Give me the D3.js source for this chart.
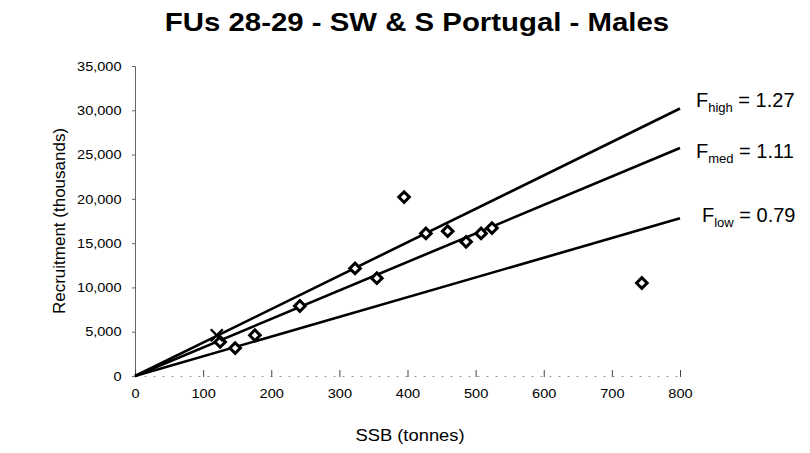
<!DOCTYPE html>
<html>
<head>
<meta charset="utf-8">
<script src="https://cdn.jsdelivr.net/npm/d3@7"></script>
<style>
  html, body { margin: 0; padding: 0; background: #fff; }
  svg { display: block; font-family: "Liberation Sans", Arial, sans-serif; }
</style>
</head>
<body>
<svg id="chart" width="810" height="453"></svg>
<script>
// ---- data ----
const ssb = [125, 147, 176, 242, 323, 355, 395, 427, 459, 486, 508, 524, 744];
const recruitment = [3850, 3150, 4600, 7900, 12150, 11050, 20200, 16100, 16350, 15150, 16100, 16700, 10500];
const markX = [120];
const markY = [4600];
const refNames = ["high", "med", "low"];
const refValues = ["1.27", "1.11", "0.79"];
const refEndR = [30200, 25750, 17800];   // recruitment at SSB = 800
const xTicks = [0, 100, 200, 300, 400, 500, 600, 700, 800];
const yTicks = [0, 5000, 10000, 15000, 20000, 25000, 30000, 35000];

const svg = d3.select("#chart");
const x = d3.scaleLinear().domain([0, 800]).range([135, 680]);
const y = d3.scaleLinear().domain([0, 35000]).range([376, 66]);
const fmt = d3.format(",");

// title
svg.append("text").attr("transform", "translate(417,31) scale(1.13,1)").attr("text-anchor", "middle")
  .attr("font-size", 26).attr("font-weight", "bold").text("FUs 28-29 - SW & S Portugal - Males");

// y axis
const yAxis = svg.append("g").attr("transform", `translate(${x(0)},0)`)
  .call(d3.axisLeft(y).tickValues(yTicks).tickFormat(fmt).tickSize(3).tickPadding(9));
yAxis.select(".domain").attr("stroke", "#666").attr("stroke-width", 1);
yAxis.selectAll(".tick line").attr("stroke", "#666");
yAxis.selectAll("text").attr("font-size", 13).attr("fill", "#000")
  .attr("transform", "scale(1.12,1)")
  .attr("font-family", "Liberation Sans, Arial, sans-serif");

// x axis
const xAxis = svg.append("g").attr("transform", `translate(0,${y(0)})`)
  .call(d3.axisBottom(x).tickValues(xTicks).tickSize(0).tickPadding(13));
xAxis.select(".domain").attr("stroke", "#999").attr("stroke-dasharray", "2,7");
xAxis.selectAll(".tick").append("line").attr("y1", -6).attr("y2", 1).attr("stroke", "#444");
xAxis.selectAll("text").attr("font-size", 13).attr("fill", "#000")
  .attr("transform", "scale(1.12,1)")
  .attr("font-family", "Liberation Sans, Arial, sans-serif");

// axis titles
svg.append("text").attr("transform", "translate(410,441) scale(1.08,1)").attr("text-anchor", "middle")
  .attr("font-size", 17).text("SSB (tonnes)");
svg.append("text").attr("transform", `translate(65,${(66 + 376) / 2}) rotate(-90)`)
  .attr("text-anchor", "middle").attr("font-size", 17).text("Recruitment (thousands)");

// reference lines
refNames.forEach((n, i) => {
  svg.append("line").attr("x1", x(0)).attr("y1", y(0)).attr("x2", x(800)).attr("y2", y(refEndR[i]))
    .attr("stroke", "#000").attr("stroke-width", 2.6);
});

// labels
const labY = [107, 158, 222];
const labX = [696, 696, 702];
refNames.forEach((n, i) => {
  const t = svg.append("text").attr("x", labX[i]).attr("y", labY[i]).attr("font-size", 20);
  t.append("tspan").text("F");
  t.append("tspan").attr("font-size", 13).attr("dy", 5).text(n);
  t.append("tspan").attr("dy", -5).text(" = " + refValues[i]);
});

// diamonds
const dsym = d3.symbol().type(d3.symbolSquare).size(56);
svg.selectAll(".pt").data(ssb).join("path").attr("class", "pt")
  .attr("d", dsym)
  .attr("transform", (d, i) => `translate(${x(d)},${y(recruitment[i])}) rotate(45)`)
  .attr("fill", "#fff").attr("stroke", "#000").attr("stroke-width", 3);

// cross marker
markX.forEach((d, i) => {
  const cx = x(d), cy = y(markY[i]), r = 6;
  svg.append("path").attr("d", `M${cx - r},${cy - r}L${cx + r},${cy + r}M${cx - r},${cy + r}L${cx + r},${cy - r}`)
    .attr("stroke", "#000").attr("stroke-width", 2.4).attr("fill", "none");
});
</script>
</body>
</html>
